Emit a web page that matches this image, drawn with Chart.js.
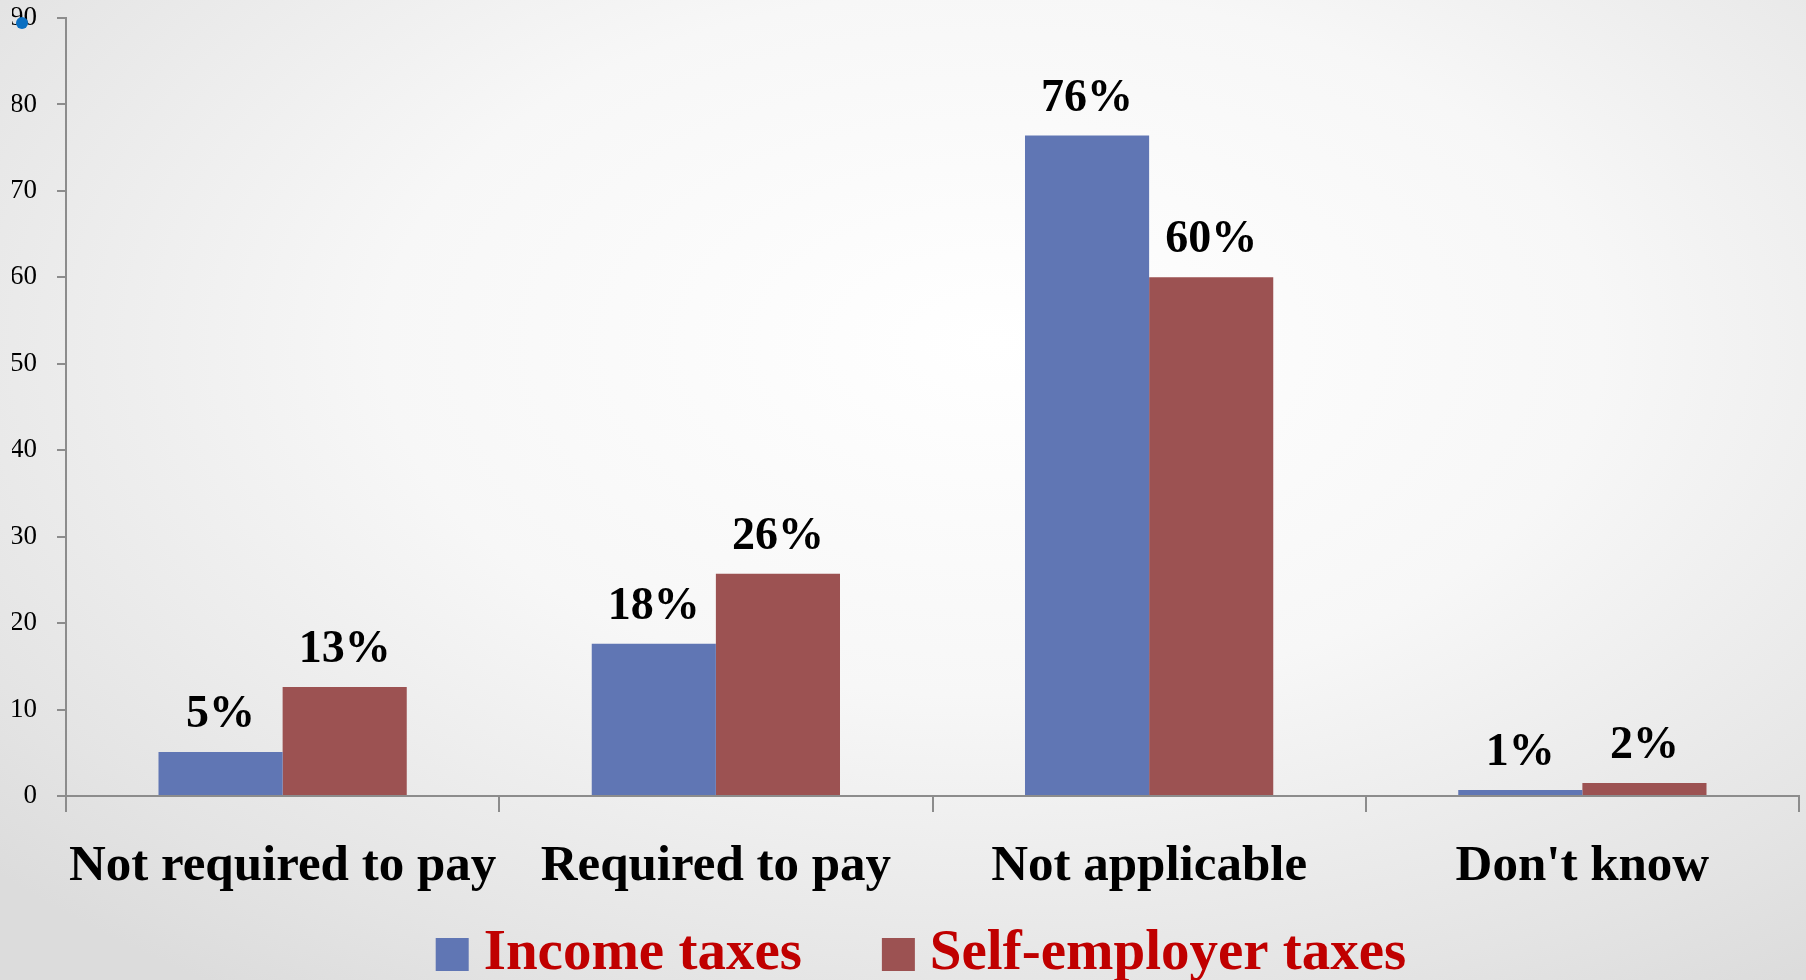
<!DOCTYPE html>
<html>
<head>
<meta charset="utf-8">
<script src="https://cdn.jsdelivr.net/npm/chart.js@4/dist/chart.umd.min.js"></script>
<style>
    html, body {
        margin: 0;
        padding: 0;
    }
    body {
        width: 1806px;
        height: 980px;
        overflow: hidden;
        position: relative;
        background: radial-gradient(ellipse 75% 80% at 55% 35%, #ffffff 0%, #f7f7f7 45%, #e4e4e4 85%, #dcdcdc 100%);
    }
    #wrap {
        position: absolute;
        left: 0;
        top: 0;
        width: 1806px;
        height: 980px;
    }
    #dot {
        position: absolute;
        left: 16px;
        top: 17px;
        width: 12px;
        height: 12px;
        border-radius: 50%;
        background: #0a6fc2;
    }
</style>
</head>
<body>
<div id="wrap"><canvas id="taxChart"></canvas></div>
<div id="dot"></div>
<script>
const categories = ['Not required to pay', 'Required to pay', 'Not applicable', "Don't know"];
const incomeValues = [5.1, 17.6, 76.4, 0.7];
const selfEmpValues = [12.6, 25.7, 60.0, 1.5];
const incomeLabels = ['5%', '18%', '76%', '1%'];
const selfEmpLabels = ['13%', '26%', '60%', '2%'];
const yTicks = [0, 10, 20, 30, 40, 50, 60, 70, 80, 90];

const axisColor = '#8c8c8c';
const serif = '"Liberation Serif", "Times New Roman", serif';

// value labels above each bar
const barLabels = {
    id: 'barLabels',
    afterDatasetsDraw(chart) {
        const ctx = chart.ctx;
        const texts = [incomeLabels, selfEmpLabels];
        ctx.save();
        ctx.font = 'bold 46px ' + serif;
        ctx.fillStyle = '#000000';
        ctx.textAlign = 'center';
        ctx.textBaseline = 'alphabetic';
        chart.data.datasets.forEach((ds, i) => {
            chart.getDatasetMeta(i).data.forEach((bar, j) => {
                ctx.fillText(texts[i][j], bar.x, bar.y - 25);
            });
        });
        ctx.restore();
    }
};

// legend drawn under the axis
const bottomLegend = {
    id: 'bottomLegend',
    afterDraw(chart) {
        const ctx = chart.ctx;
        const box = 33;
        const gap = 15;
        const spacing = 80;
        ctx.save();
        ctx.font = 'bold 57px ' + serif;
        const items = chart.data.datasets.map(ds => ({
            text: ds.label,
            color: ds.backgroundColor,
            w: ctx.measureText(ds.label).width
        }));
        let total = 0;
        items.forEach((it, i) => {
            total += box + gap + it.w + (i > 0 ? spacing : 0);
        });
        let x = chart.width / 2 + 18 - total / 2;
        const baseline = 969;
        items.forEach((it, i) => {
            if (i > 0) x += spacing;
            ctx.fillStyle = it.color;
            ctx.fillRect(x, 938, box, box);
            x += box + gap;
            ctx.fillStyle = '#c00000';
            ctx.textAlign = 'left';
            ctx.textBaseline = 'alphabetic';
            ctx.fillText(it.text, x, baseline);
            x += it.w;
        });
        ctx.restore();
    }
};

const ctx = document.getElementById('taxChart').getContext('2d');
const taxChart = new Chart(ctx, {
    type: 'bar',
    data: {
        labels: categories,
        datasets: [
            {
                label: 'Income taxes',
                data: incomeValues,
                backgroundColor: '#6076b4',
                borderWidth: 0
            },
            {
                label: 'Self-employer taxes',
                data: selfEmpValues,
                backgroundColor: '#9c5252',
                borderWidth: 0
            }
        ]
    },
    options: {
        responsive: true,
        maintainAspectRatio: false,
        animation: false,
        datasets: {
            bar: {
                categoryPercentage: 0.573,
                barPercentage: 1.0
            }
        },
        layout: {
            padding: { top: 18, left: 12, right: 7, bottom: 87 }
        },
        plugins: {
            legend: { display: false },
            tooltip: { enabled: false }
        },
        scales: {
            x: {
                afterFit(axis) {
                    axis.height = 97;
                    axis.paddingLeft = 0;
                    axis.paddingRight = 0;
                },
                grid: {
                    drawOnChartArea: false,
                    drawTicks: true,
                    tickLength: 16,
                    color: axisColor,
                    lineWidth: 2
                },
                border: { color: axisColor, width: 2 },
                ticks: {
                    color: '#000000',
                    font: { family: serif, size: 51, weight: 'bold' },
                    padding: 24,
                    maxRotation: 0,
                    minRotation: 0,
                    autoSkip: false
                }
            },
            y: {
                min: 0,
                max: 90,
                afterBuildTicks(axis) {
                    axis.ticks = yTicks.map(v => ({ value: v }));
                },
                afterFit(axis) {
                    axis.width = 54;
                    axis.paddingTop = 0;
                    axis.paddingBottom = 0;
                },
                grid: {
                    drawOnChartArea: false,
                    drawTicks: true,
                    tickLength: 9,
                    color: axisColor,
                    lineWidth: 2
                },
                border: { color: axisColor, width: 2 },
                ticks: {
                    color: '#000000',
                    font: { family: serif, size: 27 },
                    padding: 20
                }
            }
        }
    },
    plugins: [barLabels, bottomLegend]
});
</script>
</body>
</html>
